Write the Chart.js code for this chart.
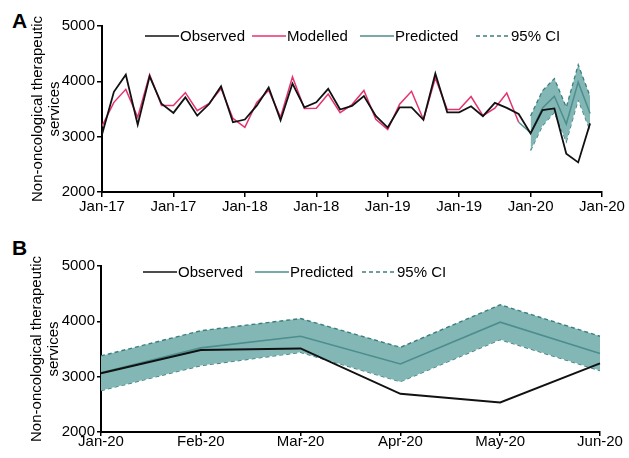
<!DOCTYPE html>
<html>
<head>
<meta charset="utf-8">
<script src="https://cdn.jsdelivr.net/npm/chart.js@4.4.0/dist/chart.umd.min.js"></script>
<style>
body { margin: 0; background: #fff; font-family: "Liberation Sans", Arial, sans-serif; }
#wrap { position: relative; width: 629px; height: 458px; overflow: hidden; }
canvas { position: absolute; left: 0; }
.panel { position: absolute; font-weight: bold; font-size: 21px; line-height: 21px; }
.item { position: absolute; display: flex; align-items: center; font-size: 15px; line-height: 18px; white-space: nowrap; color: #000; }
.item svg { margin-right: 1px; }
</style>
</head>
<body>
<div id="wrap">
  <div class="panel" style="left:12px;top:10px;">A</div>
  <div class="panel" style="left:12px;top:237px;">B</div>
  <canvas id="chartA" width="629" height="222" style="top:0px;"></canvas>
  <canvas id="chartB" width="629" height="230" style="top:228px;"></canvas>
</div>
<script>
// 月ラベル（パネルA：6か月ごと、元図のまま）
const tickLabelsA = ['Jan-17', 'Jan-17', 'Jan-18', 'Jan-18', 'Jan-19', 'Jan-19', 'Jan-20', 'Jan-20'];
// パネルB：2020年1〜6月
const monthsB = ['Jan-20', 'Feb-20', 'Mar-20', 'Apr-20', 'May-20', 'Jun-20'];

// 実績（2017年1月〜2019年12月）
const observedHist = [3040, 3810, 4120, 3215, 4090, 3595, 3430, 3710, 3380, 3590, 3910, 3260,
                      3310, 3560, 3890, 3295, 3960, 3530, 3620, 3865, 3490, 3555, 3735, 3375,
                      3165, 3530, 3530, 3305, 4140, 3440, 3440, 3550, 3370, 3610, 3520, 3410];
// モデル値（2017年1月〜2019年12月）
const modelled = [3190, 3620, 3855, 3350, 4120, 3565, 3565, 3795, 3470, 3600, 3870, 3330,
                  3170, 3620, 3840, 3350, 4080, 3510, 3515, 3770, 3435, 3580, 3835, 3315,
                  3130, 3585, 3820, 3310, 4060, 3490, 3490, 3725, 3380, 3515, 3790, 3260];
// 2020年1〜6月
const observedB  = [3060, 3480, 3510, 2690, 2535, 3240];
const predictedB = [3070, 3520, 3730, 3230, 3985, 3420];
const ciUpperB   = [3375, 3830, 4050, 3530, 4300, 3730];
const ciLowerB   = [2750, 3200, 3440, 2910, 3670, 3110];

// 凡例
const legendA = ['Observed', 'Modelled', 'Predicted', '95% CI'];
const legendB = ['Observed', 'Predicted', '95% CI'];

// 色
const BLACK = '#111111';
const PINK = '#e5336e';
const TEAL = '#4d8e8d';
const TEAL_DASH = '#3b7f7e';
const TEAL_FILL = '#82b7b6';

Chart.defaults.font.family = '"Liberation Sans", Arial, sans-serif';
Chart.defaults.font.size = 15;
Chart.defaults.color = '#000';

// x,y の点に変換
function toPoints(values, start) {
    return values.map((v, i) => ({ x: start + i, y: v }));
}

// 軸の共通設定
function axisStyle(tickLen) {
    return {
        grid: { display: true, drawOnChartArea: false, drawTicks: true, tickLength: tickLen, color: '#000', lineWidth: 1.5 },
        border: { display: true, color: '#000', width: 2 },
    };
}

function yAxis(tickLen) {
    return Object.assign(axisStyle(tickLen), {
        min: 2000, max: 5000,
        ticks: { stepSize: 1000, padding: 2, color: '#000', callback: function(v) { return String(v); } },
        title: {
            display: true,
            text: ['Non-oncological therapeutic', 'services'],
            font: { size: 15, lineHeight: 1.1 },
            padding: { top: 0, bottom: 0 },
            color: '#000'
        },
        afterFit: function(scale) { scale.width = 72; }
    });
}

function lineDs(label, data, color, width, extra) {
    return Object.assign({
        label: label, data: data, borderColor: color, backgroundColor: color,
        borderWidth: width, pointRadius: 0, pointHoverRadius: 0, tension: 0, fill: false
    }, extra || {});
}

// パネルA
new Chart(document.getElementById('chartA').getContext('2d'), {
    type: 'line',
    data: {
        datasets: [
            lineDs('Observed', toPoints(observedHist.concat(observedB), 0), BLACK, 1.8),
            lineDs('Modelled', toPoints(modelled, 0), PINK, 1.5),
            lineDs('Predicted', toPoints([modelled[modelled.length - 1]].concat(predictedB), 35), TEAL, 1.5),
            lineDs('95% CI', toPoints(ciUpperB, 36), TEAL_DASH, 1.3, { borderDash: [4, 3], fill: '+1', backgroundColor: TEAL_FILL }),
            lineDs('95% CI lower', toPoints(ciLowerB, 36), TEAL_DASH, 1.3, { borderDash: [4, 3] }),
        ]
    },
    options: {
        responsive: false,
        animation: false,
        layout: { padding: { left: 30, right: 27, top: 26, bottom: 0 } },
        plugins: { legend: { display: false }, tooltip: { enabled: false } },
        scales: {
            x: Object.assign(axisStyle(5), {
                type: 'linear', min: 0, max: 42,
                ticks: {
                    stepSize: 6, autoSkip: false, maxRotation: 0, padding: 1, color: '#000',
                    callback: function(v) { return tickLabelsA[v / 6]; }
                },
                afterFit: function(scale) { scale.height = 30; }
            }),
            y: yAxis(5)
        }
    }
});

// パネルB
new Chart(document.getElementById('chartB').getContext('2d'), {
    type: 'line',
    data: {
        labels: monthsB,
        datasets: [
            lineDs('Observed', observedB, BLACK, 2),
            lineDs('Predicted', predictedB, TEAL, 1.6),
            lineDs('95% CI', ciUpperB, TEAL_DASH, 1.4, { borderDash: [4, 3], fill: '+1', backgroundColor: TEAL_FILL }),
            lineDs('95% CI lower', ciLowerB, TEAL_DASH, 1.4, { borderDash: [4, 3] }),
        ]
    },
    options: {
        responsive: false,
        animation: false,
        layout: { padding: { left: 29, right: 29, top: 38, bottom: 0 } },
        plugins: { legend: { display: false }, tooltip: { enabled: false } },
        scales: {
            x: Object.assign(axisStyle(4), {
                type: 'category', offset: false,
                ticks: { autoSkip: false, maxRotation: 0, padding: -3, color: '#000' },
                afterFit: function(scale) { scale.height = 26; }
            }),
            y: yAxis(4)
        }
    }
});

// 凡例（HTML）
function addLegend(names, colors, dashed, lefts, top) {
    const wrap = document.getElementById('wrap');
    names.forEach(function(name, i) {
        const div = document.createElement('div');
        div.className = 'item';
        div.style.left = lefts[i] + 'px';
        div.style.top = top + 'px';
        const dash = dashed[i] ? ' stroke-dasharray="4 3"' : '';
        div.innerHTML = '<svg width="34" height="4"><line x1="0" y1="2" x2="34" y2="2" stroke="' + colors[i] +
            '" stroke-width="1.6"' + dash + '/></svg><span>' + name + '</span>';
        wrap.appendChild(div);
    });
}
addLegend(legendA, [BLACK, PINK, TEAL, TEAL_DASH], [false, false, false, true], [145, 252, 360, 476], 27);
addLegend(legendB, [BLACK, TEAL, TEAL_DASH], [false, false, true], [143, 255, 362], 263);
</script>
</body>
</html>
